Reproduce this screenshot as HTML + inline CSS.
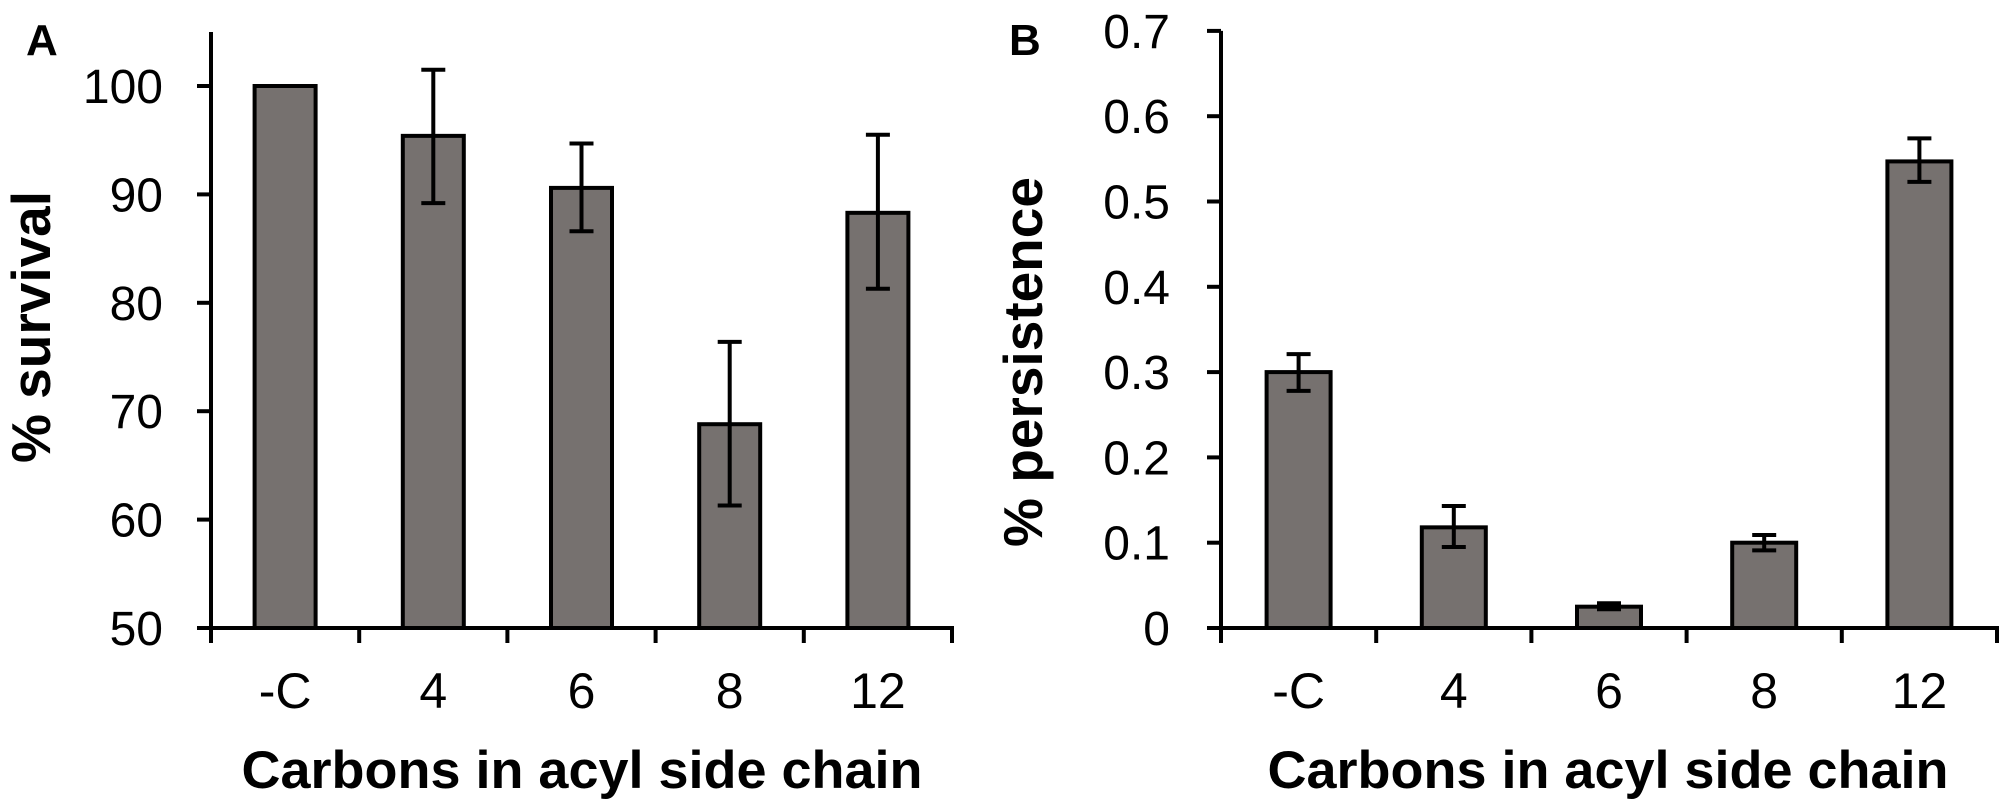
<!DOCTYPE html>
<html><head><meta charset="utf-8"><style>
html,body{margin:0;padding:0;background:#fff;}
svg{display:block;}
text{font-family:"Liberation Sans",Arial,sans-serif;fill:#000;}
</style></head>
<body>
<svg id="fig" width="2008" height="809" viewBox="0 0 2008 809" xmlns="http://www.w3.org/2000/svg">
<text x="26" y="55" font-size="44" font-weight="bold">A</text>
<text x="1009" y="55" font-size="44" font-weight="bold">B</text>
<text transform="translate(50,327) rotate(-90)" text-anchor="middle" font-size="55" font-weight="bold">% survival</text>
<text transform="translate(1042,362) rotate(-90)" text-anchor="middle" font-size="55" font-weight="bold">% persistence</text>
<text x="582" y="788" text-anchor="middle" font-size="53" font-weight="bold" textLength="681" lengthAdjust="spacingAndGlyphs">Carbons in acyl side chain</text>
<text x="1608" y="788" text-anchor="middle" font-size="53" font-weight="bold" textLength="681" lengthAdjust="spacingAndGlyphs">Carbons in acyl side chain</text>
<g id="ga"></g>
<g id="gb"></g>
</svg>
<script>
const categories = ["-C", "4", "6", "8", "12"];
const survivalValues = [100, 95.4, 90.6, 68.8, 88.3];
const survivalErrHigh = [100, 101.5, 94.7, 76.4, 95.5];
const survivalErrLow = [100, 89.2, 86.6, 61.3, 81.3];
const survivalTicks = [50, 60, 70, 80, 90, 100];
const persistValues = [0.300, 0.118, 0.025, 0.100, 0.547];
const persistErrHigh = [0.321, 0.143, 0.029, 0.109, 0.574];
const persistErrLow = [0.278, 0.095, 0.022, 0.091, 0.523];
const persistTicks = [0, 0.1, 0.2, 0.3, 0.4, 0.5, 0.6, 0.7];

const NS = "http://www.w3.org/2000/svg";
function mk(parent, tag, attrs, text) {
  const e = document.createElementNS(NS, tag);
  for (const k in attrs) e.setAttribute(k, attrs[k]);
  if (text !== undefined) e.textContent = text;
  parent.appendChild(e);
  return e;
}

function drawChart(g, cfg) {
  const y = v => cfg.y0 - (v - cfg.vmin) * cfg.pxPerUnit;
  const x = i => cfg.axisX + cfg.band * (i + 0.5);
  const xEnd = cfg.axisX + cfg.band * categories.length;
  categories.forEach((c, i) => {
    const top = y(cfg.values[i]);
    const b = mk(g, "rect", {x: x(i) - cfg.barW / 2, y: top, width: cfg.barW, height: cfg.y0 - top, fill: "#76716f", stroke: "#000", "stroke-width": 4});
    
    
    if (cfg.errHigh[i] !== cfg.errLow[i]) {
      const eg = mk(g, "g", {stroke: "#000", "stroke-width": 4});
      
      
      const yh = y(cfg.errHigh[i]), yl = y(cfg.errLow[i]);
      mk(eg, "line", {x1: x(i), x2: x(i), y1: yh, y2: yl});
      mk(eg, "line", {x1: x(i) - 12, x2: x(i) + 12, y1: yh, y2: yh});
      mk(eg, "line", {x1: x(i) - 12, x2: x(i) + 12, y1: yl, y2: yl});
    }
    const t = mk(g, "text", {x: x(i), y: 708, "text-anchor": "middle", "font-size": 50}, c);
    
    
  });
  const ax = mk(g, "g", {stroke: "#000", "stroke-width": 4, fill: "none"});
  
  
  mk(ax, "line", {x1: cfg.axisX, x2: cfg.axisX, y1: y(cfg.ticks[cfg.ticks.length - 1]) - cfg.topPad, y2: cfg.y0 + 2});
  mk(ax, "line", {x1: cfg.axisX - 14, x2: xEnd + 2, y1: cfg.y0, y2: cfg.y0});
  for (let i = 0; i <= categories.length; i++) {
    const tx = cfg.axisX + cfg.band * i;
    mk(ax, "line", {x1: tx, x2: tx, y1: cfg.y0, y2: cfg.y0 + 15});
  }
  cfg.ticks.forEach(v => {
    mk(ax, "line", {x1: cfg.axisX - 14, x2: cfg.axisX, y1: y(v), y2: y(v)});
    const t = mk(g, "text", {x: cfg.labelX, y: y(v) + 17, "text-anchor": "end", "font-size": 48}, cfg.fmt(v));
    
    
  });
}

drawChart(document.getElementById("ga"), {
  key: "a", values: survivalValues, errHigh: survivalErrHigh, errLow: survivalErrLow,
  ticks: survivalTicks, vmin: 50, y0: 628, pxPerUnit: 10.84, axisX: 211, band: 148.2, barW: 61,
  labelX: 163, topPad: 54, fmt: v => String(v)
});
drawChart(document.getElementById("gb"), {
  key: "b", values: persistValues, errHigh: persistErrHigh, errLow: persistErrLow,
  ticks: persistTicks, vmin: 0, y0: 628, pxPerUnit: 853, axisX: 1221, band: 155.2, barW: 64,
  labelX: 1170, topPad: 0, fmt: v => v === 0 ? "0" : v.toFixed(1)
});
</script>
</body></html>
